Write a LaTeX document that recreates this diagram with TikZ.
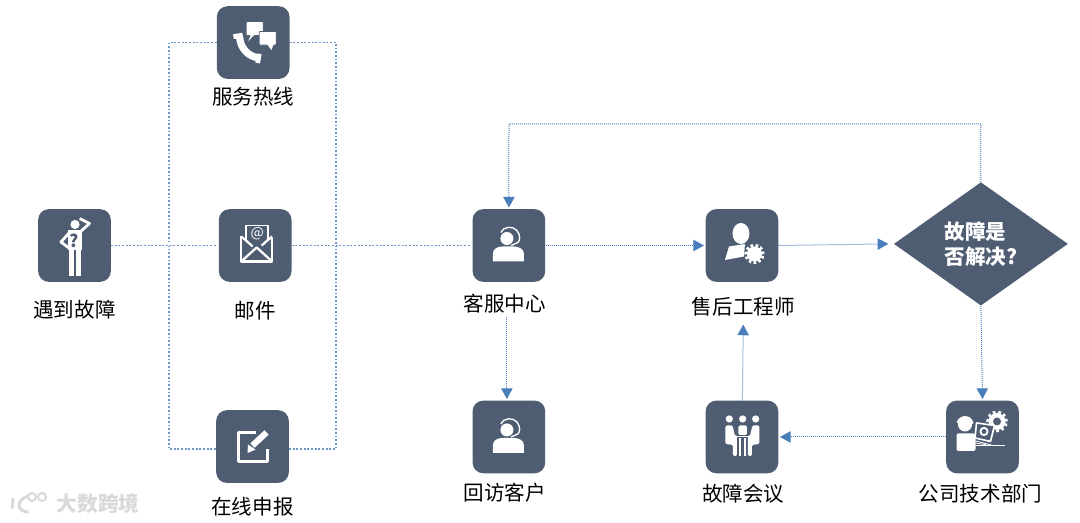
\documentclass[tikz,border=0pt]{standalone}
\usepackage{fontspec}
\setmainfont{Noto Sans CJK SC}
\usetikzlibrary{arrows.meta,positioning,shapes.geometric}

\definecolor{boxblue}{HTML}{4F5D73}
\definecolor{linkblue}{HTML}{4A7EBB}
\definecolor{markgray}{HTML}{D9D9D9}

\tikzset{
    iconbox/.style={draw=none,fill=boxblue,rounded corners=8pt,minimum size=54.5pt,inner sep=0pt},
    decision/.style={diamond,fill=boxblue,text=white,minimum width=130.5pt,minimum height=92.5pt,inner sep=0pt,align=left,font=\fontsize{15.4}{18.8}\selectfont\bfseries},
    nametext/.style={inner sep=3pt,font=\fontsize{15.4}{18}\selectfont},
    wideline/.style={draw=linkblue!80!white,line width=1.35pt,dash pattern=on 1.35pt off 1.4pt},
    thinline/.style={draw=linkblue,line width=.75pt,dash pattern=on .75pt off .75pt},
    iconline/.style={draw=white,line width=1.7pt,line join=round},
    iconfill/.style={fill=white,draw=none},
    gearteeth/.style={draw=white,line width=2.4pt,dash pattern=on 2pt off 2.1pt},
    pics/agent/.style={code={
        \fill[iconfill] (-16,-16) -- (15,-16) -- (15,-8) .. controls (15,-3) and (9,-1) .. (5,-1) -- (-6,-1) .. controls (-11,-1) and (-16,-3) .. (-16,-8) -- cycle;
        \fill[iconfill] (-2,7) circle[radius=6.5];
        \draw[iconline,line width=1pt,fill=none] (-8,13) .. controls (-6,19) and (4,20) .. (8,15) .. controls (12,10) and (11,5) .. (9,3) -- (1,-.5);
    }},
    pics/engineer/.style={code={
        \fill[iconfill] (-1,12) ellipse[x radius=8.5,y radius=10.5];
        \fill[iconfill] (-13,-1) -- (3,1.5) -- (2,-11) -- (-17,-14.5) -- cycle;
        \fill[iconfill] (12.5,-8.5) circle[radius=7.5];
        \draw[gearteeth,dash pattern=on 1.9pt off 1.75pt] (12.5,-8.5) circle[radius=8.5];
    }},
    pics/meeting/.style={code={
        \fill[iconfill] (-12.7,18) circle[radius=3.6];
        \fill[iconfill] (.7,18) circle[radius=3.6];
        \fill[iconfill] (13.7,18) circle[radius=3.6];
        \fill[iconfill,rounded corners=1pt] (-16.5,11.5) -- (-9.5,11.5) -- (-7,1) -- (-5,1) -- (-5,-19) -- (-9,-19) -- (-9,-8) -- (-16.5,-7) -- cycle;
        \fill[iconfill,rounded corners=1pt] (17.5,11.5) -- (10.5,11.5) -- (8,1) -- (6,1) -- (6,-19) -- (10,-19) -- (10,-8) -- (17.5,-7) -- cycle;
        \fill[iconfill,rounded corners=1pt] (-3.5,11.5) -- (5,11.5) -- (5,2) -- (-3.5,2) -- cycle;
        \fill[iconfill] (-6,1) rectangle (7,-.5);
        \fill[iconfill] (-2.8,-1) rectangle (-1,-19);
        \fill[iconfill] (2,-1) rectangle (3.8,-19);
    }},
    pics/support/.style={code={
        \fill[iconfill] (-17.5,12.5) circle[radius=7];
        \fill[iconfill,rounded corners=1.5pt] (-26,-14) rectangle (-7,3.5);
        \draw[iconline,line width=1.3pt] (-25,14) .. controls (-23.5,22) and (-11.5,22) .. (-10,14) -- (-25,14);
        \fill[iconfill] (14.5,15.5) circle[radius=8.5];
        \draw[gearteeth,line width=2pt] (14.5,15.5) circle[radius=9.5];
        \fill[boxblue] (14.5,15.5) circle[radius=4];
        \draw[iconline,fill=boxblue,line width=1.2pt] (-6,14) -- (12,11.5) -- (8,-4.5) -- (-7.5,-1) -- cycle;
        \draw[iconline,line width=1.4pt] (1.5,5.5) circle[radius=3.6];
        \draw[iconline,line width=.9pt] (-7,-8.5) -- (24,-8.5);
        \draw[iconline,line width=.6pt] (-7,-4) -- (9,-8) (-7,-6) -- (5,-8);
    }},
    pics/worried/.style={code={
        \fill[iconfill] (.5,21) circle[radius=4.6];
        \fill[iconfill] (-7,15) -- (7,15) -- (7,-5) -- (-7,-5) -- cycle;
        \fill[iconfill] (-6,-5) rectangle (-1,-31);
        \fill[iconfill] (1,-5) rectangle (6,-31);
        \draw[iconline,line width=2.1pt] (-5,13) -- (-13.5,3.5) -- (-5,-3);
        \draw[iconline,line width=2.1pt] (5,13) -- (15,22) -- (4,27.5);
        \node[text=boxblue,font=\fontsize{13}{13}\selectfont\bfseries,inner sep=0pt] (mark) at (-.5,5) {?};
    }},
    pics/phone/.style={code={
        \draw[draw=white,line width=5.4pt] (-13.5,5) .. controls (-12.5,-6) and (-5,-13.5) .. (6,-15.5);
        \draw[draw=white,line width=7pt] (-15.5,9) -- (-14.5,3);
        \draw[draw=white,line width=7pt] (3,-15.5) -- (9,-16.5);
        \fill[iconfill,draw=boxblue,line width=.6pt,rounded corners=.6pt] (-7,21) -- (10,21) -- (10,7) -- (1,7) -- (-7,-2) -- (-3,7) -- (-7,7) -- cycle;
        \fill[iconfill,draw=boxblue,line width=.6pt,rounded corners=.6pt] (6,11) -- (23,11) -- (23,-2.5) -- (20.5,-2.5) -- (18.5,-9) -- (14,-2.5) -- (6,-2.5) -- cycle;
    }},
    pics/letter/.style={code={
        \draw[iconline] (-14,9) -- (-14,-16) -- (17,-16) -- (17,9);
        \draw[iconline] (-14,-16) -- (1.5,-2) -- (17,-16);
        \draw[iconline] (-14,9) -- (-8,4) (17,9) -- (11,4) (-8,4) -- (-2.5,-1) (11,4) -- (5.5,-1);
        \draw[iconline,line width=1.2pt] (-9,4) -- (-9,20) -- (13,20) -- (13,4);
        \node[text=white,font=\fontsize{10.5}{10.5}\selectfont,inner sep=0pt] (at) at (2,11.5) {@};
    }},
    pics/edit/.style={code={
        \draw[iconline,line width=2.4pt] (3,14) -- (-14,14) -- (-14,-15) -- (15,-15) -- (15,-1);
        \draw[draw=boxblue,line width=7pt] (-1,0) -- (15,15);
        \draw[draw=white,line width=4.6pt] (0,1) -- (15,15);
        \fill[iconfill] (-5,-6.5) -- (-4.5,2) -- (3,-3) -- cycle;
    }},
}

\begin{document}
\begin{tikzpicture}[x=.75pt,y=.75pt,on grid,>={Triangle[length=8pt,width=8.5pt]},shorten >=1pt]
    \useasboundingbox (0,0) rectangle (1080,523);

    \node[iconbox] (fault) at (74.5,277.5) {};
    \node[iconbox] (mail) [right=135.5pt of fault] {};
    \node[iconbox] (hotline) [above=152.2pt of mail,xshift=-1.5pt] {};
    \node[iconbox] (online) [below=150.8pt of mail,xshift=-2pt] {};
    \node[iconbox] (kefu) [right=190.3pt of mail] {};
    \node[iconbox] (engineer) [right=174.8pt of kefu] {};
    \node[decision] (solved) [right=179.2pt of engineer,yshift=1.2pt] {故障是\\否解决?};
    \node[iconbox] (callback) [below=143.6pt of kefu] {};
    \node[iconbox] (meeting) [right=174.8pt of callback] {};
    \node[iconbox] (support) [right=180.4pt of meeting] {};

    \node[nametext] (faulttext) [below=48.4pt of fault] {遇到故障};
    \node[nametext] (mailtext) [below=48.8pt of mail] {邮件};
    \node[nametext] (hotlinetext) [below=40.5pt of hotline] {服务热线};
    \node[nametext] (onlinetext) [below=44.8pt of online] {在线申报};
    \node[nametext] (kefutext) [below=43.5pt of kefu,xshift=-3pt] {客服中心};
    \node[nametext] (engineertext) [below=46pt of engineer,xshift=1pt] {售后工程师};
    \node[nametext] (callbacktext) [below=42pt of callback,xshift=-3pt] {回访客户};
    \node[nametext] (meetingtext) [below=42.5pt of meeting,xshift=1pt] {故障会议};
    \node[nametext] (supporttext) [below=42.5pt of support,xshift=-1.5pt] {公司技术部门};

    \pic at (fault) {worried};
    \pic at (hotline) {phone};
    \pic at (mail) {letter};
    \pic at (online) {edit};
    \pic at (kefu) {agent};
    \pic at (callback) {agent};
    \pic at (engineer) {engineer};
    \pic at (meeting) {meeting};
    \pic at (support) {support};

    \coordinate (leftbar) at (169,278);
    \coordinate (rightbar) at (336,278);
    \coordinate (topturn) at (509,399);

    \path (fault) edge[wideline] (mail);
    \path (mail) edge[wideline] (kefu);
    \draw[wideline] (hotline.west) -| (leftbar);
    \draw[wideline] (hotline.east) -| (rightbar);
    \draw[wideline] ([yshift=-2pt]online.west) -| (leftbar);
    \draw[wideline] ([yshift=-2pt]online.east) -| (rightbar);

    \path[->] (kefu) edge[thinline] (engineer);
    \path[->] (engineer.east) edge[thinline] ([xshift=-3pt]solved.west);
    \draw[thinline,->] (solved.north) |- (topturn) -- (kefu.north);
    \path[->] ([xshift=-1.5pt]kefu.south |- kefutext.south) edge[thinline] ([xshift=-1.5pt]callback.north);
    \path[->] (solved.south) edge[thinline] (support.north);
    \path[->] (support) edge[thinline] (meeting);
    \path[->] (meeting) edge[thinline,shorten >=3pt] (engineertext.south);

    % watermark
    \node[text=markgray,font=\fontsize{15.5}{15.5}\selectfont\bfseries,inner sep=0pt] (brand) at (98,19.5) {大数跨境};
    \coordinate (brandlogo) at (25,19);
    \draw[markgray,line width=2.2pt] ([shift={(-12,6)}]brandlogo) -- ([shift={(-13,-6)}]brandlogo);
    \draw[markgray,line width=2.2pt] ([shift={(3,8)}]brandlogo) .. controls ([shift={(-9,4)}]brandlogo) and ([shift={(-9,-8)}]brandlogo) .. ([shift={(5,-8)}]brandlogo);
    \draw[markgray,line width=1.5pt] ([shift={(7,7)}]brandlogo) circle[radius=4];
    \draw[markgray,line width=1.5pt] ([shift={(17,7)}]brandlogo) circle[radius=4];
\end{tikzpicture}
\end{document}
